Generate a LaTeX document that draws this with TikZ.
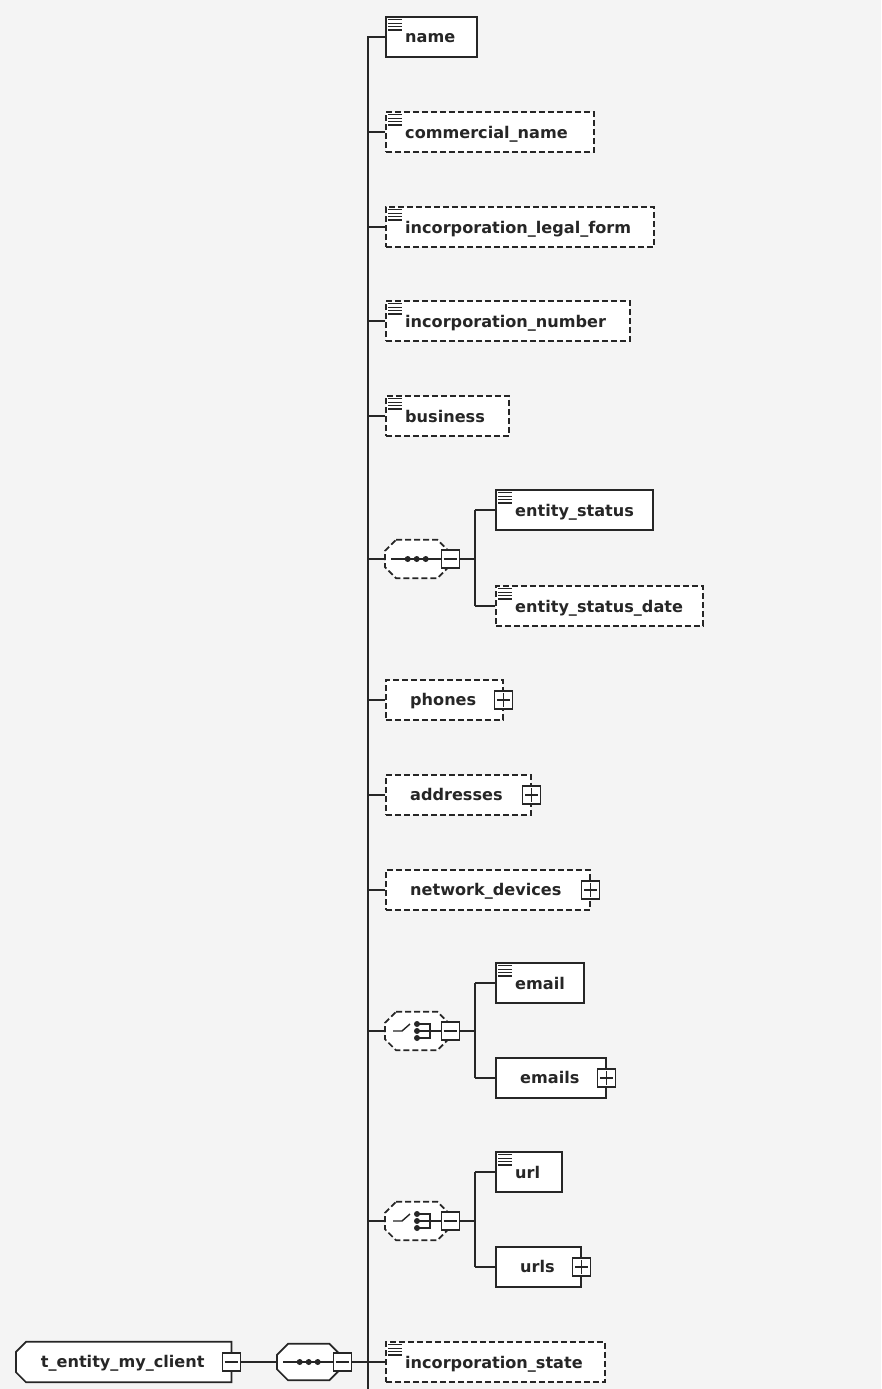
\documentclass[tikz,border=0pt]{standalone}
\usepackage{fontspec}
\setmainfont{DejaVu Sans}
\definecolor{bgc}{HTML}{F4F4F4}
\definecolor{inkc}{HTML}{262626}
\newcommand{\iconbox}[6]{%
  \node[ebox,#5,minimum width=#4pt] (#1) at (#2,#3) {};
  \node[etext] (#1-t) at ([xshift=20pt,yshift=-6pt]#1.west) {#6};
  \foreach \k in {0,1,2,3} \draw[icn] ([xshift=3pt,yshift=-3.6pt-\k*3.4pt]#1.north west) -- +(14,0);
}
\newcommand{\plusbox}[6]{%
  \node[ebox,#5,minimum width=#4pt] (#1) at (#2,#3) {};
  \node[etext] (#1-t) at ([xshift=25pt,yshift=-5pt]#1.west) {#6};
  \node[pmbox] (#1-p) at (#1.east) {};
  \draw[pmln] ([xshift=3pt]#1-p.west) -- ([xshift=-3pt]#1-p.east);
  \draw[pmln] ([yshift=-3pt]#1-p.north) -- ([yshift=3pt]#1-p.south);
}
\newcommand{\minusin}[1]{%
  \draw[pmln] ([xshift=3pt]#1.west) -- ([xshift=-3pt]#1.east);}
\newcommand{\octo}[3]{%
  \draw[ln,fill=white,#3] ([xshift=#2pt]#1.north west) -- ([xshift=-#2pt]#1.north east)
   -- ([yshift=-#2pt]#1.north east) -- ([yshift=#2pt]#1.south east)
   -- ([xshift=-#2pt]#1.south east) -- ([xshift=#2pt]#1.south west)
   -- ([yshift=#2pt]#1.south west) -- ([yshift=-#2pt]#1.north west) -- cycle;}
\newcommand{\seqhub}[5]{% name, x, y, height, style
  \node[hub,minimum height=#4pt] (#1) at (#2,#3) {};
  \octo{#1}{11}{#5}
  \node[pmbox] (#1-m) at ([xshift=2pt]#1.east) {};
  \draw[ln] ([xshift=6pt]#1.west) -- (#1-m.west);
  \foreach \d in {-9,0,9} \fill[inkc] ([xshift=\d pt]#1.center) circle[radius=3pt];
  \minusin{#1-m}
}
\newcommand{\choicehub}[4]{% name, x, y, style
  \node[hub,minimum height=38pt] (#1) at (#2,#3) {};
  \octo{#1}{11}{#4}
  \node[pmbox] (#1-m) at ([xshift=2pt]#1.east) {};
  \draw[ln,line width=1.4pt] ([xshift=8pt]#1.west) -- ([xshift=17pt]#1.west) -- ([xshift=25pt,yshift=7pt]#1.west);
  \foreach \d in {-7,0,7} \fill[inkc] ([xshift=32pt,yshift=\d pt]#1.west) circle[radius=3pt];
  \draw[ln,line width=1.4pt] ([xshift=32pt,yshift=7pt]#1.west) -| ([xshift=45pt,yshift=-7pt]#1.west) -- ([xshift=32pt,yshift=-7pt]#1.west);
  \draw[ln,line width=1.4pt] ([xshift=32pt]#1.west) -- (#1-m.west);
  \minusin{#1-m}
}
\begin{document}
\begin{tikzpicture}[x=1pt,y=-1pt,
  ln/.style={line width=1.7pt, draw=inkc},
  ebox/.style={draw=inkc, fill=white, line width=1.7pt, minimum height=40pt, inner sep=0pt, anchor=west},
  opt/.style={dash pattern=on 6pt off 3pt},
  etext/.style={font=\fontsize{16.1}{19}\selectfont\bfseries, text=inkc, inner sep=0pt, anchor=base west},
  pmbox/.style={draw=inkc, fill=white, line width=1.4pt, minimum size=18pt, inner sep=0pt},
  pmln/.style={line width=1.4pt, draw=inkc},
  icn/.style={line width=1.2pt, draw=inkc},
  hub/.style={inner sep=0pt, minimum width=63pt, anchor=west},
]
\fill[bgc] (0,0) rectangle (881,1389);
\useasboundingbox (0,0) rectangle (881,1389);

% main column
\iconbox{name}{385}{37}{91}{}{name}
\iconbox{cname}{385}{132}{208}{opt}{commercial\_name}
\iconbox{ilf}{385}{227}{268}{opt}{incorporation\_legal\_form}
\iconbox{inum}{385}{321}{244}{opt}{incorporation\_number}
\iconbox{bus}{385}{416}{123}{opt}{business}
\seqhub{c1}{385}{559}{38}{opt}
\iconbox{es}{495}{510}{157}{}{entity\_status}
\iconbox{esd}{495}{606}{207}{opt}{entity\_status\_date}
\plusbox{ph}{385}{700}{117}{opt}{phones}
\plusbox{addr}{385}{795}{145}{opt}{addresses}
\plusbox{nd}{385}{890}{204}{opt}{network\_devices}
\choicehub{c2}{385}{1031}{opt}
\iconbox{em}{495}{983}{88}{}{email}
\plusbox{ems}{495}{1078}{110}{}{emails}
\choicehub{c3}{385}{1221}{opt}
\iconbox{url}{495}{1172}{66}{}{url}
\plusbox{urls}{495}{1267}{85}{}{urls}
\iconbox{ist}{385}{1362}{219}{opt}{incorporation\_state}

% root and top sequence
\node[inner sep=0pt, minimum width=215pt, minimum height=40pt, anchor=west] (root) at (16,1362) {};
\draw[ln,fill=white] ([xshift=10pt]root.north west) -- (root.north east) -- (root.south east)
  -- ([xshift=10pt]root.south west) -- ([yshift=10pt]root.south west) -- ([yshift=-10pt]root.north west) -- cycle;
\node[etext,anchor=base] (root-t) at ([xshift=-1pt,yshift=-5pt]root.center) {t\_entity\_my\_client};
\node[pmbox] (root-m) at (root.east) {};
\minusin{root-m}
\seqhub{c0}{277}{1362}{36}{}

% connectors
\coordinate (spt) at (368,36.2);
\coordinate (spb) at (368,1389);
\draw[ln] (spt) -- (spb);
\foreach \n in {name,cname,ilf,inum,bus,c1,ph,addr,nd,c2,c3}
  \draw[ln] (spt |- \n.west) -- (\n.west);
\draw[ln] (root-m.east) -- (c0.west);
\draw[ln] (c0-m.east) -- (ist.west);

\coordinate (j1) at (475,559);
\draw[ln] (c1-m.east) -- (j1);
\draw[ln] (j1 |- es.west) -- (j1 |- esd.west);
\draw[ln] (j1 |- es.west) -- (es.west);
\draw[ln] (j1 |- esd.west) -- (esd.west);

\coordinate (j2) at (475,1031);
\draw[ln] (c2-m.east) -- (j2);
\draw[ln] (j2 |- em.west) -- (j2 |- ems.west);
\draw[ln] (j2 |- em.west) -- (em.west);
\draw[ln] (j2 |- ems.west) -- (ems.west);

\coordinate (j3) at (475,1221);
\draw[ln] (c3-m.east) -- (j3);
\draw[ln] (j3 |- url.west) -- (j3 |- urls.west);
\draw[ln] (j3 |- url.west) -- (url.west);
\draw[ln] (j3 |- urls.west) -- (urls.west);
\end{tikzpicture}
\end{document}
